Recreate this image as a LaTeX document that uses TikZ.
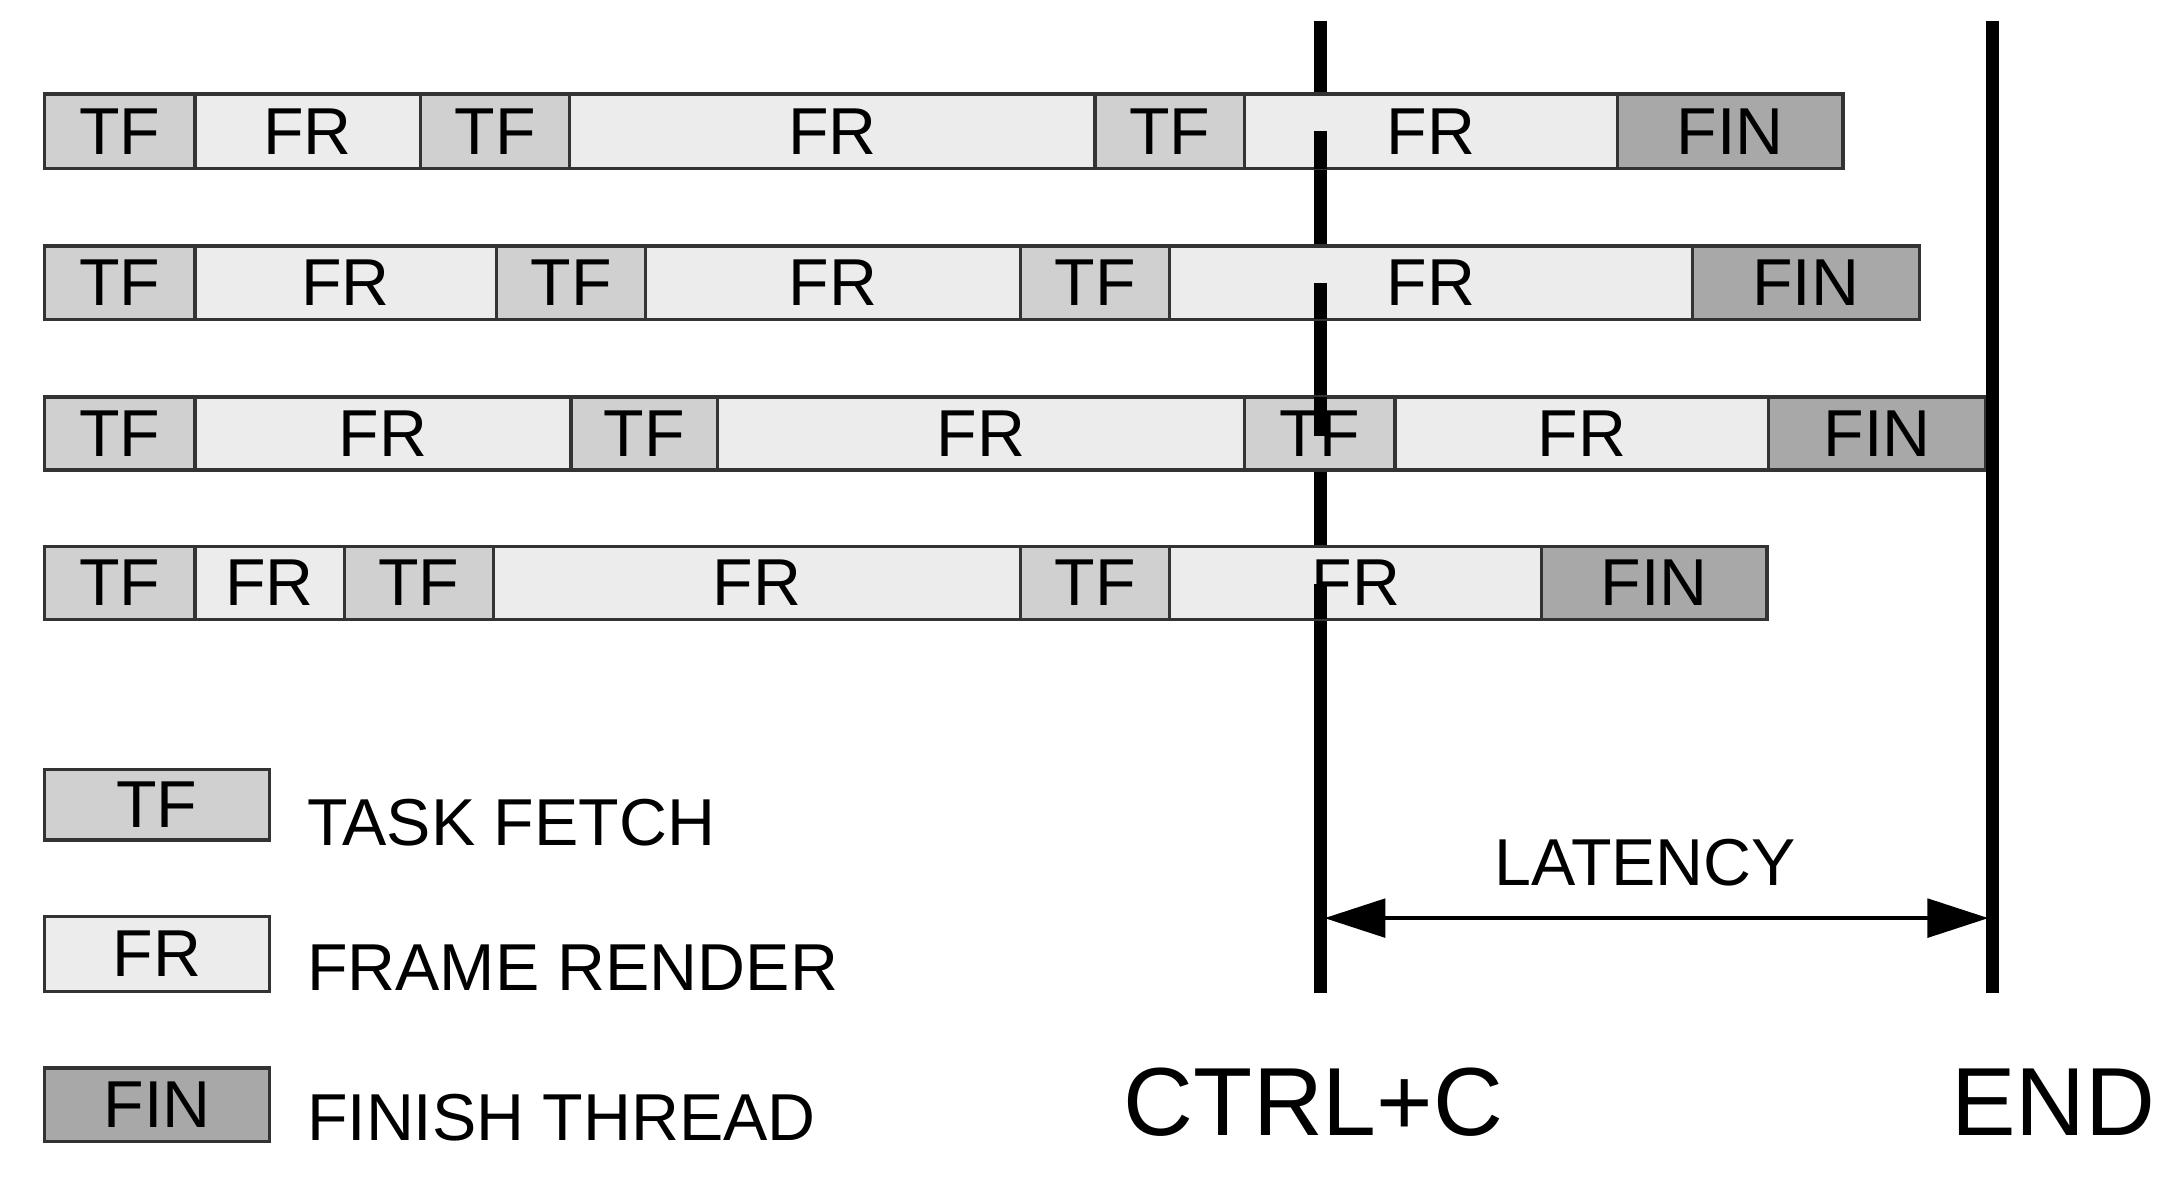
\documentclass[tikz,border=0pt]{standalone}
\usepackage{fontspec}
\setmainfont{Liberation Sans}
\usetikzlibrary{arrows.meta}
\definecolor{tfc}{HTML}{D0D0D0}
\definecolor{frc}{HTML}{ECECEC}
\definecolor{finc}{HTML}{A8A8A8}
\begin{document}
\begin{tikzpicture}[x=0.5pt,y=-0.5pt,
  seg/.style={draw=black!80,line width=1.2pt,inner sep=0pt,font=\fontsize{24}{24}\selectfont},
  TF/.style={seg,fill=tfc},FR/.style={seg,fill=frc},FIN/.style={seg,fill=finc},
  marker/.style={line width=5pt},
  lbl/.style={anchor=west,font=\fontsize{24}{24}\selectfont}]
\useasboundingbox (0,0) rectangle (1560,852);
% vertical markers (behind)
\coordinate (ct) at (955,15); \coordinate (cb) at (955,718);
\coordinate (et) at (1441,15); \coordinate (eb) at (1441,718);
\draw[marker] (ct) -- (cb);
% rows
\foreach \ya/\yb/\segs [count=\r] in {
  68/122/{32/141/TF,141/304/FR,304/412/TF,412/792/FR,792/900/TF,900/1170/FR,1170/1333/FIN},
  178/231/{32/141/TF,141/359/FR,359/467/TF,467/738/FR,738/846/TF,846/1224/FR,1224/1388/FIN},
  287/340/{32/141/TF,141/413/FR,413/519/TF,519/900/FR,900/1009/TF,1009/1279/FR,1279/1436/FIN},
  395/448/{32/141/TF,141/249/FR,249/357/TF,357/738/FR,738/846/TF,846/1115/FR,1115/1278/FIN}}{
  \foreach \a/\b/\t [count=\i] in \segs {
    \node[\t,minimum width={(\b-\a)*0.5pt},minimum height={(\yb-\ya)*0.5pt}]
      (r\r s\i) at ({(\a+\b)/2},{(\ya+\yb)/2}) {\t};
  }
}
\draw[marker] (955,95) -- (955,122) (955,205) -- (955,231) (955,315) -- (955,287) (955,422) -- (955,448);
\path (cb) ++(0,0);
\draw[marker] (et) -- (eb);
% latency
\coordinate (la) at (958,664); \coordinate (lb) at (1438,664);
\draw[line width=1.2pt,{Triangle[length=22pt,width=14pt]}-{Triangle[length=22pt,width=14pt]}] (la) -- (lb);
\node[font=\fontsize{24}{24}\selectfont] (lat) at (1190,624) {LATENCY};
\node[font=\fontsize{35}{35}\selectfont] (ctrl) at (950,797) {CTRL+C};
\node[font=\fontsize{35}{35}\selectfont] (end) at (1485,797) {END};
% legend
\node[TF,minimum width=81.5pt,minimum height=25.5pt] (ltf) at (113.5,582) {TF};
\node[FR,minimum width=81.5pt,minimum height=27pt] (lfr) at (113.5,690) {FR};
\node[FIN,minimum width=81.5pt,minimum height=26.5pt] (lfin) at (113.5,799) {FIN};
\node[lbl] (t1) at (215,595) {TASK FETCH};
\node[lbl] (t2) at (215,700) {FRAME RENDER};
\node[lbl] (t3) at (215,808) {FINISH THREAD};
\end{tikzpicture}
\end{document}
